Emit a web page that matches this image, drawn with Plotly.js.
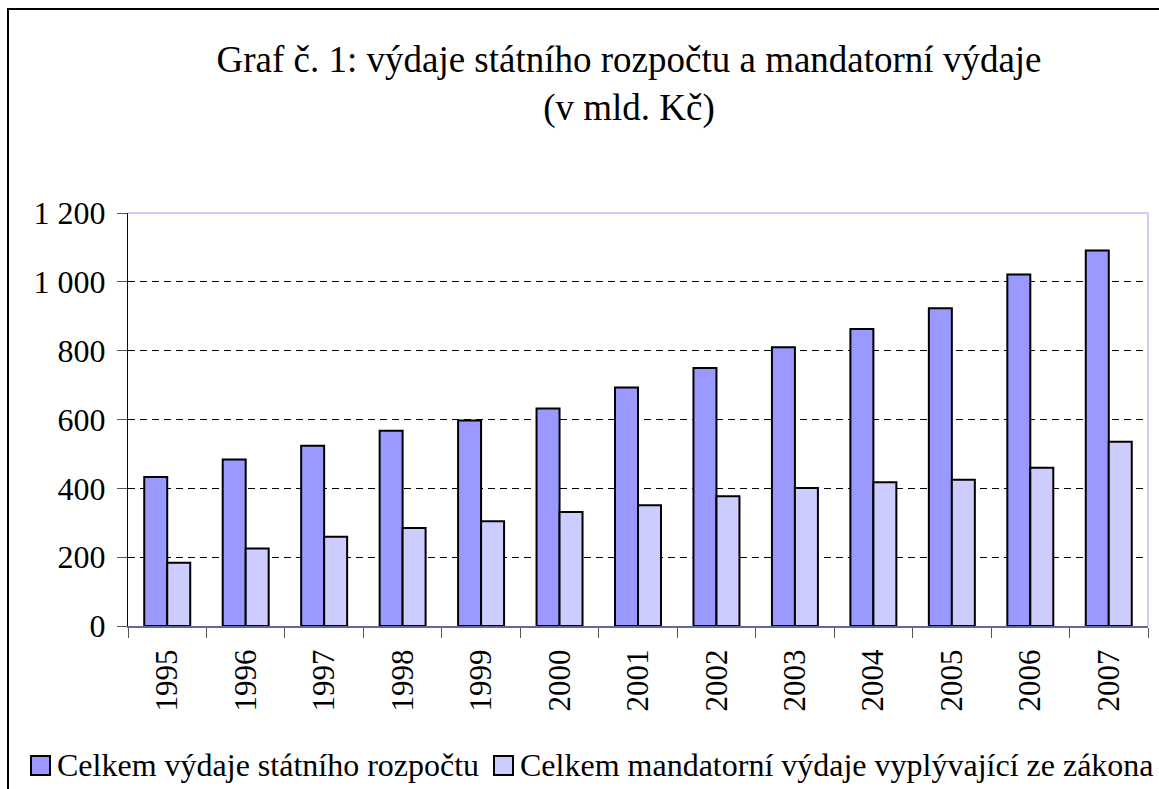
<!DOCTYPE html>
<html>
<head>
<meta charset="utf-8">
<script src="https://cdn.plot.ly/plotly-3.0.1.min.js"></script>
<style>
  html, body { margin: 0; padding: 0; background: #fff; }
  #wrap { position: relative; width: 1159px; height: 789px; overflow: hidden; }
  #chart { width: 1159px; height: 789px; }
  #frame { position: absolute; left: 7px; top: 8px; width: 1200px; height: 900px;
           border-left: 2px solid #000; border-top: 2px solid #000; pointer-events: none; }
</style>
</head>
<body>
<div id="wrap">
  <div id="chart"></div>
  <div id="frame"></div>
</div>
<script>
const years = ["1995","1996","1997","1998","1999","2000","2001","2002","2003","2004","2005","2006","2007"];
const totalSpending = [433, 484, 524, 567, 597, 632, 693, 750, 810, 863, 923, 1021, 1091];
const mandatorySpending = [184, 225, 259, 285, 304, 331, 351, 377, 401, 418, 425, 460, 535];
const seriesNames = ["Celkem výdaje státního rozpočtu", "Celkem mandatorní výdaje vyplývající ze zákona"];
const seriesColors = ["#9999ff", "#ccccff"];
const titleText = "Graf č. 1: výdaje státního rozpočtu a mandatorní výdaje<br>(v mld. Kč)";

const FONT = "Liberation Serif";

const traces = [
  { type: "bar", x: years, y: totalSpending, name: seriesNames[0],
    marker: { color: seriesColors[0], line: { color: "#000", width: 2 } }, hoverinfo: "x+y" },
  { type: "bar", x: years, y: mandatorySpending, name: seriesNames[1],
    marker: { color: seriesColors[1], line: { color: "#000", width: 2 } }, hoverinfo: "x+y" }
];

const L = 128, R = 11, T = 213, B = 163, W = 1159, H = 789;
const pw = W - L - R, ph = H - T - B;
const px = v => (v - L) / pw;
const py = v => (H - B - v) / ph;

const legendSwatchX = [31, 494];
const legendTextX = [55, 518];
const legendY = 765;

const shapes = [
  { type: "line", xref: "paper", yref: "paper", x0: 0, x1: 1, y0: 1, y1: 1,
    line: { color: "#ccccff", width: 2 }, layer: "above" },
  { type: "line", xref: "paper", yref: "paper", x0: 1, x1: 1, y0: 0, y1: 1,
    line: { color: "#ccccff", width: 2 }, layer: "above" }
];
const annotations = [];
seriesNames.forEach((nm, i) => {
  shapes.push({ type: "rect", xref: "paper", yref: "paper",
    x0: px(legendSwatchX[i]), x1: px(legendSwatchX[i] + 19),
    y0: py(legendY - 9), y1: py(legendY + 10),
    fillcolor: seriesColors[i], line: { color: "#000", width: 2 }, layer: "above" });
  annotations.push({ xref: "paper", yref: "paper", x: px(legendTextX[i]), y: py(legendY),
    xanchor: "left", yanchor: "middle", showarrow: false, text: nm,
    font: { family: FONT, size: 32 } });
});

const layout = {
  width: W, height: H,
  margin: { l: L, r: R, t: T, b: B, pad: 0 },
  paper_bgcolor: "rgba(0,0,0,0)", plot_bgcolor: "#fff",
  font: { family: FONT, size: 30, color: "#000000" },
  separators: ", ",
  title: { text: titleText, font: { family: FONT, size: 37 },
           x: 629/W, xref: "container", xanchor: "center",
           y: 1 - 72/H, yref: "container", yanchor: "top" },
  barmode: "group", bargap: 0.414, bargroupgap: 0,
  showlegend: false,
  xaxis: { type: "category", showline: true, linecolor: "#666699", linewidth: 2,
           ticks: "outside", ticklen: 10, tickcolor: "#555", tickwidth: 1,
           tickson: "boundaries", tickangle: -90, showgrid: false,
           tickfont: { family: FONT, size: 31 }, ticklabelstandoff: 9 },
  yaxis: { range: [0, 1200], dtick: 200, tick0: 0, tickformat: ",d", showline: true,
           linecolor: "#000066", linewidth: 1, ticks: "outside", ticklen: 10,
           tickcolor: "#555", tickwidth: 1, showgrid: true, gridcolor: "#000",
           gridwidth: 1, griddash: "7px,5px", zeroline: false,
           tickfont: { family: FONT, size: 32 }, ticklabelstandoff: 5 },
  shapes: shapes,
  annotations: annotations
};

Plotly.newPlot("chart", traces, layout, { displayModeBar: false });
</script>
</body>
</html>
